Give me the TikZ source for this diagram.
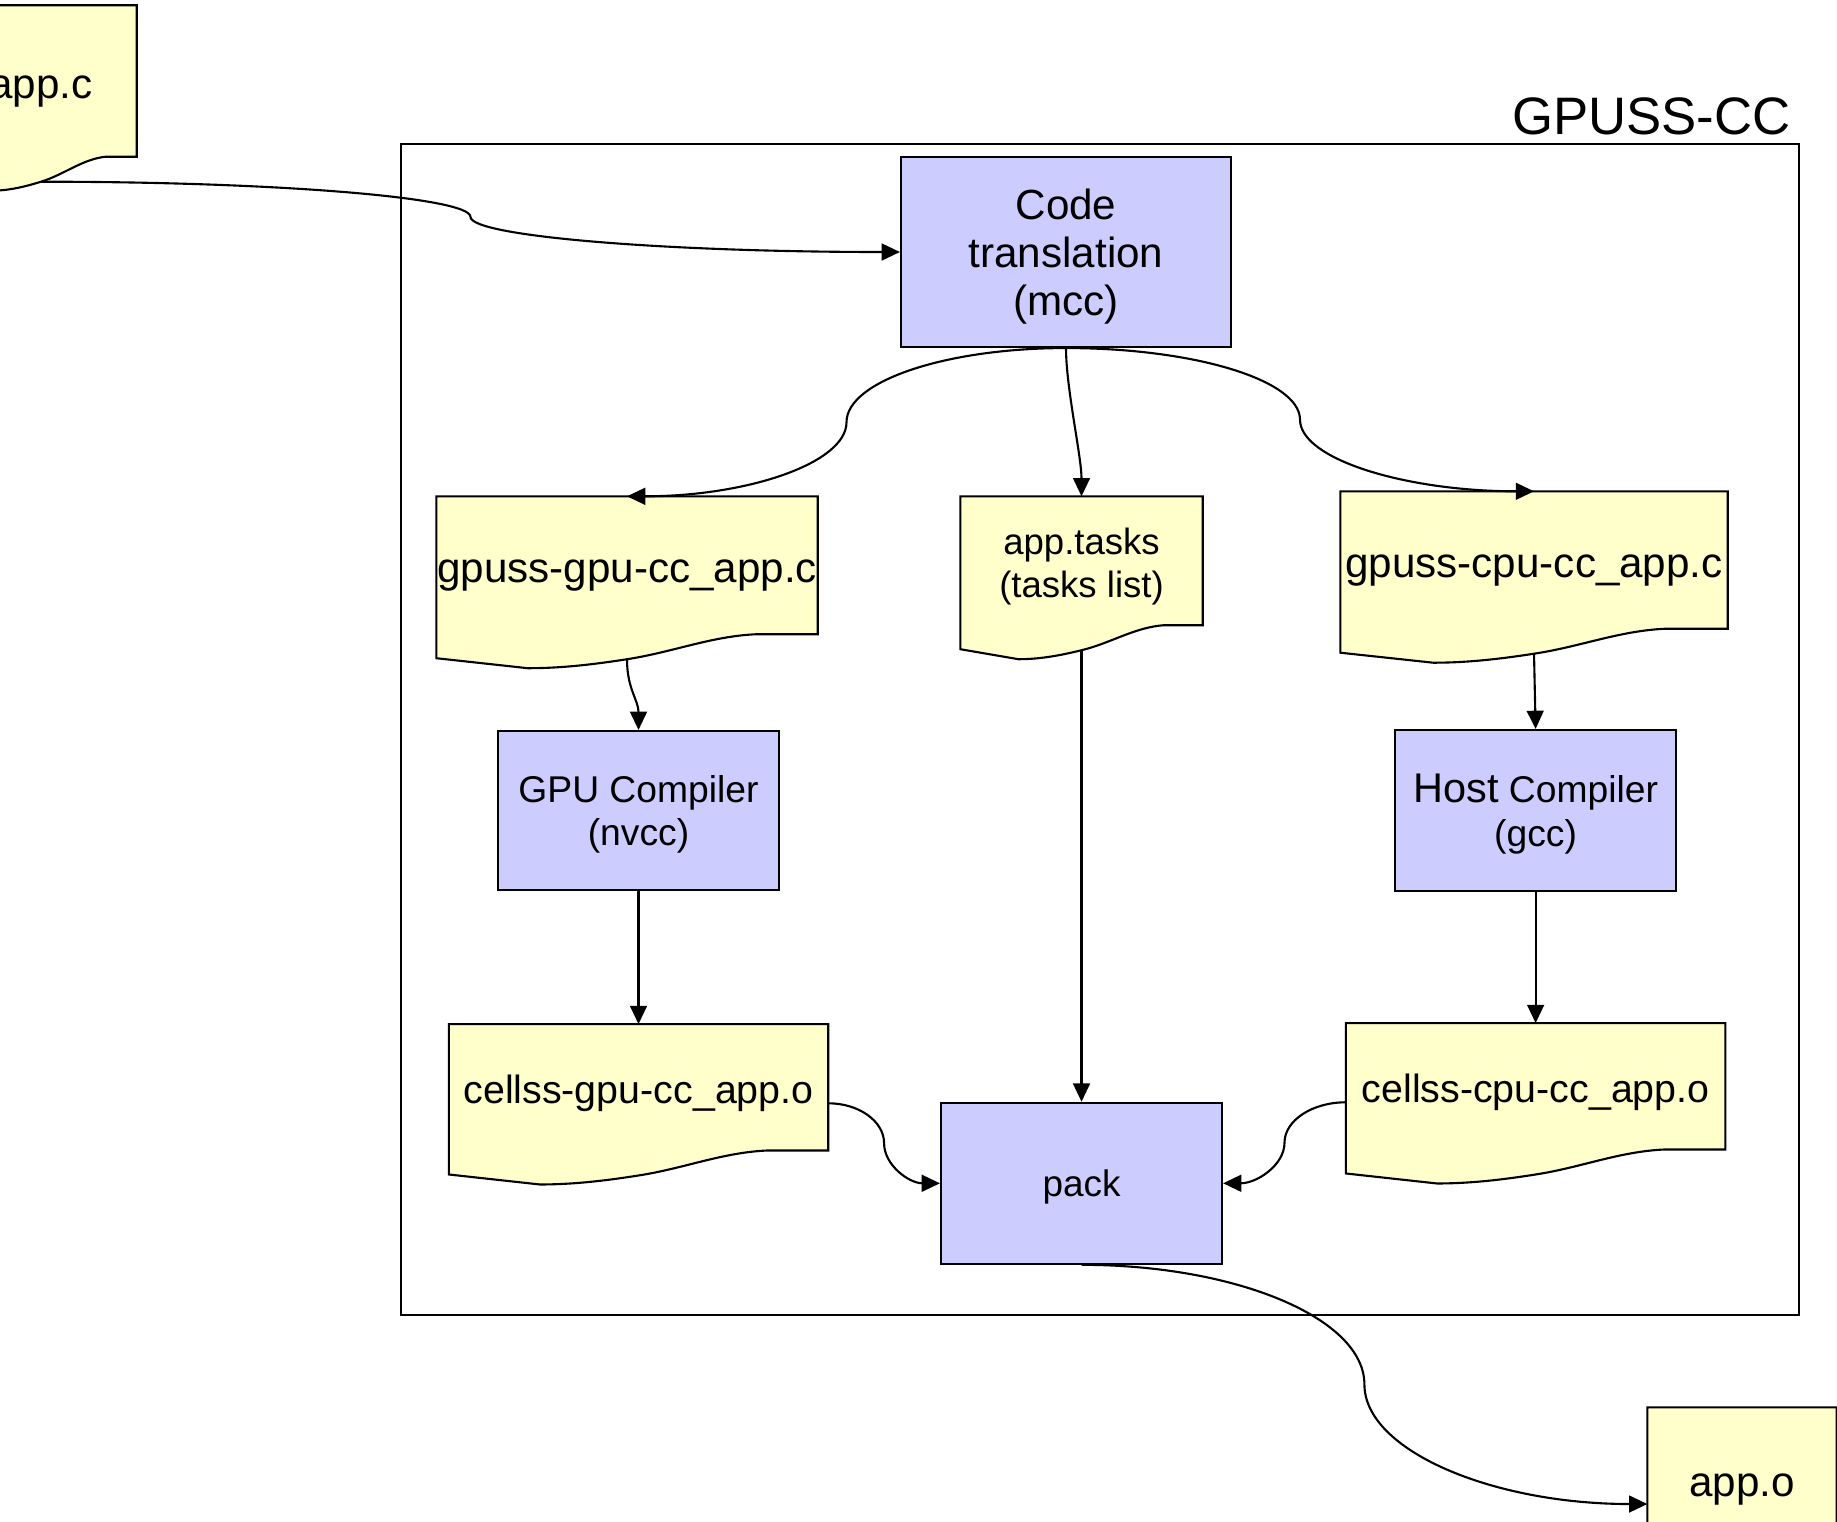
\documentclass[tikz,border=0pt]{standalone}
\usepackage{fontspec}
\setmainfont{Liberation Sans}
\usepackage{xcolor}
\usepackage{tikz}
\usetikzlibrary{arrows.meta, positioning, calc}
\definecolor{procblue}{HTML}{CCCCFF}
\definecolor{docyellow}{HTML}{FFFFCC}
\tikzstyle{arrow} = [line width=0.6pt, -{Triangle[length=5.2pt, width=4.8pt]}]
\tikzstyle{process} = [rectangle, draw=black, line width=0.6pt, fill=procblue, align=center, inner sep=0pt, text depth=0pt]
\tikzstyle{docnode} = [rectangle, align=center, inner sep=0pt]
\tikzstyle{docshape} = [draw=black, fill=docyellow, line width=0.6pt]
\pgfdeclarelayer{background}
\pgfsetlayers{background,main}
% document outline (wavy bottom) round a docnode
\newcommand*\docbox[1]{%
  \path[docshape] (#1.north west) -- (#1.north east) -- ($(#1.south east)+(0,0.12)$)
    -- ($(#1.south west)!0.84!(#1.south east)+(0,0.12)$)
    .. controls ($(#1.south west)!0.72!(#1.south east)+(0,0.10)$) and ($(#1.south west)!0.62!(#1.south east)+(0,-0.06)$)
    .. ($(#1.south west)!0.5!(#1.south east)+(0,-0.13)$)
    .. controls ($(#1.south west)!0.40!(#1.south east)+(0,-0.19)$) and ($(#1.south west)!0.32!(#1.south east)+(0,-0.22)$)
    .. ($(#1.south west)!0.24!(#1.south east)+(0,-0.22)$)
    -- ($(#1.south west)+(0,-0.12)$) -- cycle;}
% curved connector: start -> midpoint -> end
\newcommand*\curvedlink[3]{%
  \draw[arrow] (#1) .. controls ($(#1)!0.55!(#1 -| #2)$) and ($(#2)!0.55!(#1 -| #2)$) .. (#2)
    .. controls ($(#2)!0.55!(#2 |- #3)$) and ($(#3)!0.55!(#2 |- #3)$) .. (#3);}

\begin{document}
\begin{tikzpicture}
  \useasboundingbox (0,0) rectangle (18.37,-15.21);

  % Frame
  \node (frame) [draw, line width=0.6pt, minimum width=13.98cm, minimum height=11.71cm, anchor=north west, inner sep=0pt] at (4.00,-1.43) {};
  \node (title) [anchor=base east, inner sep=0pt, font=\fontsize{15}{18}\selectfont] at ($(frame.north east)+(-0.09,0.09)$) {GPUSS-CC};

  % Nodes
  \node (appc) [docnode, text depth=0pt, minimum width=1.90cm, minimum height=1.62cm, font=\fontsize{12}{14}\selectfont] at (0.41,-0.87) {app.c};
  \node (code) [process, minimum width=3.30cm, minimum height=1.90cm, font=\fontsize{12}{13.7}\selectfont] at (10.66,-2.52) {Code\\translation\\(mcc)};
  \node (gpuc) [docnode, text depth=0pt, minimum width=3.80cm, minimum height=1.485cm, font=\fontsize{12}{14}\selectfont] at (6.27,-5.7125) {gpuss-gpu-cc\_app.c};
  \node (tasks) [docnode, minimum width=2.41cm, minimum height=1.395cm, font=\fontsize{10.4}{12.2}\selectfont] at (10.815,-5.6675) {app.tasks\\(tasks list)};
  \node (cpuc) [docnode, text depth=0pt, minimum width=3.86cm, minimum height=1.48cm, font=\fontsize{12}{14}\selectfont] at (15.34,-5.66) {gpuss-cpu-cc\_app.c};
  \node (gpucomp) [process, minimum width=2.81cm, minimum height=1.59cm, font=\fontsize{10.6}{12.4}\selectfont] at (6.385,-8.105) {GPU Compiler\\(nvcc)};
  \node (hostcomp) [process, minimum width=2.81cm, minimum height=1.61cm, font=\fontsize{10.6}{12.6}\selectfont, right=6.14cm of gpucomp] {{\fontsize{11.8}{12.6}\selectfont Host} Compiler\\(gcc)};
  \node (gpuo) [docnode, minimum width=3.78cm, minimum height=1.37cm, font=\fontsize{11.2}{13}\selectfont, below=1.33cm of gpucomp] {cellss-gpu-cc\_app.o};
  \node (cpuo) [docnode, minimum width=3.78cm, minimum height=1.37cm, font=\fontsize{11.2}{13}\selectfont, below=1.31cm of hostcomp] {cellss-cpu-cc\_app.o};
  \node (pack) [process, minimum width=2.81cm, minimum height=1.61cm, font=\fontsize{10.5}{12}\selectfont, below=4.645cm of tasks] {pack};
  \node (appo) [docnode, minimum width=1.88cm, minimum height=1.62cm, font=\fontsize{12}{14}\selectfont] at (17.42,-14.89) {app.o};

  % Document outlines
  \begin{pgfonlayer}{background}
    \foreach \d in {appc,gpuc,tasks,cpuc,gpuo,cpuo,appo} {\docbox{\d}}
  \end{pgfonlayer}

  % Connection points
  \coordinate (appc-out) at ($(appc.south)+(0,-0.13)$);
  \coordinate (gpuo-out) at ($(gpuo.east)+(0,-0.10)$);
  \coordinate (cpuo-out) at ($(cpuo.west)+(0,-0.10)$);
  \coordinate (appo-in) at ($(appo.west)+(0,-0.15)$);
  \coordinate (m1) at ($(appc-out)!0.5!(code.west)$);
  \coordinate (m2) at ($(code.south)!0.5!(gpuc.north)$);
  \coordinate (m3) at ($(code.south)!0.5!(cpuc.north)$);
  \coordinate (m4) at ($(gpuo-out)!0.5!(pack.west)$);
  \coordinate (m5) at ($(cpuo-out)!0.5!(pack.east)$);
  \coordinate (m6) at ($(pack.south)!0.5!(appo-in)$);

  % Arrows
  \curvedlink{appc-out}{m1}{code.west}
  \curvedlink{code.south}{m2}{gpuc.north}
  \curvedlink{code.south}{m3}{cpuc.north}
  \draw[arrow] (code.south) .. controls +(0,-0.4) and +(0,0.4) .. (tasks.north);
  \draw[arrow] ($(gpuc.south)+(0,-0.13)$) .. controls +(0,-0.3) and +(0,0.3) .. (gpucomp.north);
  \draw[arrow] (gpucomp.south) -- (gpucomp.south |- gpuo.north);
  \draw[arrow] ($(tasks.south)+(0,-0.13)$) -- (pack.north);
  \draw[arrow] ($(cpuc.south)+(0,-0.13)$) -- (hostcomp.north);
  \draw[arrow] (hostcomp.south) -- (hostcomp.south |- cpuo.north);
  \curvedlink{gpuo-out}{m4}{pack.west}
  \curvedlink{cpuo-out}{m5}{pack.east}
  \curvedlink{pack.south}{m6}{appo-in}

\end{tikzpicture}
\end{document}
